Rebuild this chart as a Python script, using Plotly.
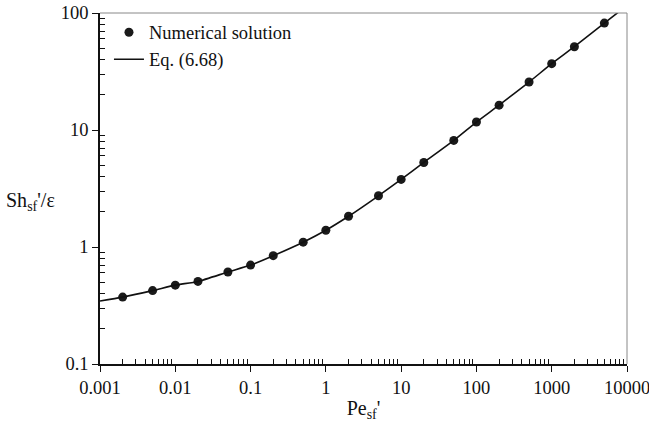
import plotly.graph_objects as go

# Data
pe_points = [0.002, 0.005, 0.01, 0.02, 0.05, 0.1, 0.2, 0.5, 1, 2, 5, 10, 20, 50,
             100, 200, 500, 1000, 2000, 5000]
sh_points = [0.373, 0.424, 0.472, 0.508, 0.611, 0.70, 0.843, 1.10, 1.39, 1.83, 2.74,
             3.78, 5.28, 8.15, 11.7, 16.3, 25.7, 36.9, 51.5, 82.0]

pe_line = [0.001, 0.002, 0.005, 0.01, 0.02, 0.05, 0.1, 0.2, 0.5, 1, 2, 5, 10, 20, 50,
           100, 200, 500, 1000, 2000, 5000, 10000]
sh_line = [0.345, 0.373, 0.424, 0.472, 0.508, 0.611, 0.70, 0.843, 1.10, 1.39, 1.83, 2.74,
           3.78, 5.28, 8.15, 11.7, 16.3, 25.7, 36.9, 51.5, 82.0, 116.0]

x_tickvals = [0.001, 0.01, 0.1, 1, 10, 100, 1000, 10000]
x_ticktext = ["0.001", "0.01", "0.1", "1", "10", "100", "1000", "10000"]
y_tickvals = [0.1, 1, 10, 100]
y_ticktext = ["0.1", "1", "10", "100"]

FONT = "'Times New Roman', 'Liberation Serif', 'DejaVu Serif', serif"
FS = 18.5

x_minor = [m * 10 ** e for e in range(-3, 4) for m in range(2, 10)]
y_minor = [m * 10 ** e for e in range(-1, 2) for m in range(2, 10)]

fig = go.Figure()
fig.add_trace(go.Scatter(
    x=pe_points, y=sh_points, mode="markers", name="Numerical solution",
    marker=dict(symbol="circle", size=9, color="#1a1a1a"),
))
fig.add_trace(go.Scatter(
    x=pe_line, y=sh_line, mode="lines", name="Eq. (6.68)",
    line=dict(color="#111111", width=1.6, shape="spline", smoothing=0.6),
))

fig.update_layout(
    width=649, height=427,
    margin=dict(l=100, r=22, t=13, b=63, autoexpand=False),
    paper_bgcolor="white", plot_bgcolor="white",
    font=dict(family=FONT, size=FS, color="#111111"),
    showlegend=True,
    legend=dict(x=0.017, y=0.998, xanchor="left", yanchor="top",
                bgcolor="rgba(0,0,0,0)", font=dict(family=FONT, size=FS),
                tracegroupgap=0, itemwidth=30),
    xaxis=dict(
        type="log", range=[-3, 4], tickmode="array", tickvals=x_tickvals, ticktext=x_ticktext,
        ticks="outside", ticklen=6, tickwidth=1.2, tickcolor="#111111",
        showline=True, linecolor="#111111", linewidth=1.5, showgrid=False, zeroline=False,
        tickfont=dict(family=FONT, size=FS), automargin=False, ticklabeloverflow="allow",
        minor=dict(tickmode="array", tickvals=x_minor, ticks="inside", ticklen=5,
                   tickwidth=1, tickcolor="#111111", showgrid=False),
        title=dict(text="Pe<sub>sf</sub>'", font=dict(family=FONT, size=20), standoff=4),
    ),
    yaxis=dict(
        type="log", range=[-1, 2], tickmode="array", tickvals=y_tickvals, ticktext=y_ticktext,
        ticks="outside", ticklen=6, tickwidth=1.2, tickcolor="#111111",
        showline=True, linecolor="#111111", linewidth=1.5, showgrid=False, zeroline=False,
        tickfont=dict(family=FONT, size=FS), automargin=False, ticklabeloverflow="allow",
        minor=dict(tickmode="array", tickvals=y_minor, ticks="inside", ticklen=5,
                   tickwidth=1, tickcolor="#111111", showgrid=False),
    ),
    shapes=[
        dict(type="line", xref="x domain", yref="y domain", x0=0, x1=1, y0=1, y1=1,
             line=dict(color="#888888", width=1)),
        dict(type="line", xref="x domain", yref="y domain", x0=1, x1=1, y0=0, y1=1,
             line=dict(color="#888888", width=1)),
    ],
    annotations=[
        dict(text="Sh<sub>sf</sub>'/ε", xref="paper", yref="paper", x=-0.183, y=0.464,
             xanchor="left", yanchor="middle", showarrow=False,
             font=dict(family=FONT, size=20, color="#111111")),
    ],
)

# remove the browser's default 8px body margin so the figure fills the window exactly
fig.write_html("out.html", config={"displayModeBar": False},
               post_script="document.body.style.margin='0';")
